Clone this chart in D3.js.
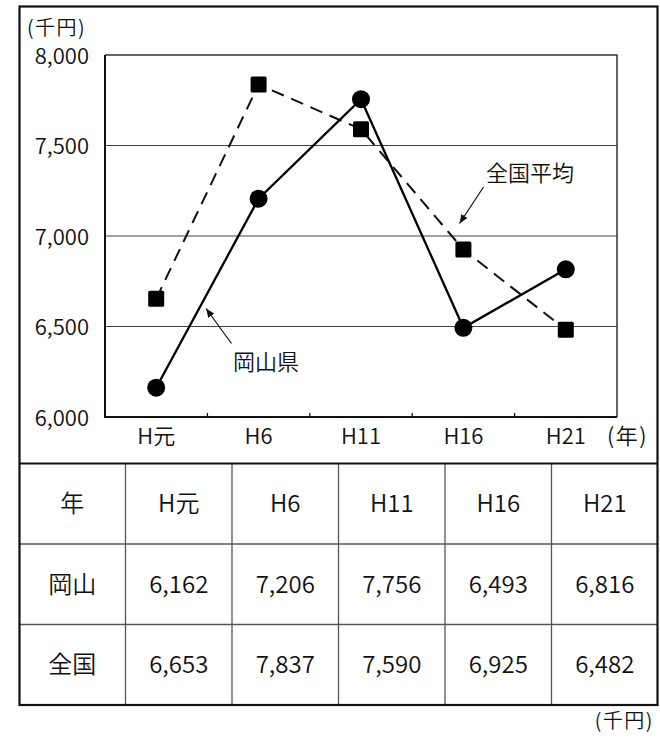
<!DOCTYPE html>
<html><head><meta charset="utf-8">
<script src="https://cdn.jsdelivr.net/npm/d3@7"></script>
<style>
html,body{margin:0;padding:0;background:#fff;}
svg text{font-family:"Noto Sans CJK JP","Noto Sans",sans-serif;fill:#111;font-weight:350;}
</style></head>
<body>
<svg id="chart" width="660" height="739"></svg>
<script>
const categories = ["H元","H6","H11","H16","H21"];
const okayama = [6162,7206,7756,6493,6816];
const national = [6653,7837,7590,6925,6482];
const yTicks = [6000,6500,7000,7500,8000];
const rowLabels = ["岡山","全国"];
const headerLabel = "年";
const unitLabel = "(千円)";
const xUnitLabel = "(年)";
const seriesNames = ["岡山県","全国平均"];

const svg = d3.select("#chart");
const fmt = d3.format(",");

const plot = {left:105, right:617, top:55, bottom:417};
const x = d3.scaleBand().domain(categories).range([plot.left, plot.right]).padding(0);
const y = d3.scaleLinear().domain([6000,8000]).range([plot.bottom, plot.top]);

// defs arrow
const defs = svg.append("defs");
defs.append("marker").attr("id","arr").attr("viewBox","0 0 10 10").attr("refX",10).attr("refY",5)
  .attr("markerWidth",9).attr("markerHeight",9).attr("markerUnits","userSpaceOnUse").attr("orient","auto")
  .append("path").attr("d","M0,1 L10,5 L0,9 Z").attr("fill","#111");

// gridlines
svg.append("g").selectAll("line").data(yTicks.filter(d=>d>6000 && d<8000)).join("line")
  .attr("x1",plot.left).attr("x2",plot.right).attr("y1",d=>y(d)).attr("y2",d=>y(d))
  .attr("stroke","#444").attr("stroke-width",1.2);
// frame top/right
svg.append("path").attr("d",`M${plot.left},${plot.top}H${plot.right}V${plot.bottom}`)
  .attr("fill","none").attr("stroke","#333").attr("stroke-width",1.5);

// y axis labels
svg.append("g").selectAll("text").data(yTicks).join("text")
  .attr("x",89).attr("y",d=>y(d)+1).attr("dy","0.36em").attr("text-anchor","end")
  .attr("font-size",22).text(d=>fmt(d));
svg.append("text").attr("x",27).attr("y",28).attr("dy","0.36em").attr("font-size",20)
  .attr("letter-spacing",1.5).text(unitLabel);

// x axis
const xAxis = d3.axisBottom(x).tickSize(0).tickPadding(0);
const gx = svg.append("g").attr("transform",`translate(0,${plot.bottom})`).call(xAxis);
gx.select(".domain").remove();
gx.selectAll("text").attr("y",19).attr("dy","0.36em").attr("font-size",22)
  .attr("font-family",'"Noto Sans CJK JP","Noto Sans",sans-serif').attr("fill","#111");
// inner ticks at band boundaries
svg.append("g").selectAll("line").data(categories.slice(1)).join("line")
  .attr("x1",d=>x(d)).attr("x2",d=>x(d)).attr("y1",plot.bottom).attr("y2",plot.bottom-4)
  .attr("stroke","#111").attr("stroke-width",1.3);
svg.append("text").attr("x",607).attr("y",436).attr("dy","0.36em").attr("font-size",22)
  .attr("letter-spacing",1.5).text(xUnitLabel);

// left & bottom axis lines
svg.append("path").attr("d",`M${plot.left},${plot.top}V${plot.bottom}H${plot.right}`)
  .attr("fill","none").attr("stroke","#111").attr("stroke-width",2);

const cx = d => x(d) + x.bandwidth()/2;
const line = d3.line().x((d,i)=>cx(categories[i])).y(d=>y(d));

// national (dashed, squares)
svg.append("path").datum(national).attr("d",line).attr("fill","none")
  .attr("stroke","#111").attr("stroke-width",2).attr("stroke-dasharray","13,8");
svg.append("g").selectAll("rect").data(national).join("rect")
  .attr("x",(d,i)=>cx(categories[i])-8).attr("y",d=>y(d)-8).attr("width",16).attr("height",16)
  .attr("rx",1.5).attr("fill","#000");

// okayama (solid, circles)
svg.append("path").datum(okayama).attr("d",line).attr("fill","none")
  .attr("stroke","#000").attr("stroke-width",2.3);
svg.append("g").selectAll("circle").data(okayama).join("circle")
  .attr("cx",(d,i)=>cx(categories[i])).attr("cy",d=>y(d)).attr("r",9).attr("fill","#000");

// annotations
svg.append("text").attr("x",233).attr("y",362).attr("dy","0.36em").attr("font-size",22).text(seriesNames[0]);
svg.append("line").attr("x1",231.5).attr("y1",343.5).attr("x2",206).attr("y2",308.5)
  .attr("stroke","#111").attr("stroke-width",1.2).attr("marker-end","url(#arr)");
svg.append("text").attr("x",486).attr("y",173).attr("dy","0.36em").attr("font-size",22).text(seriesNames[1]);
svg.append("line").attr("x1",483.5).attr("y1",187).attr("x2",459.5).attr("y2",223.5)
  .attr("stroke","#111").attr("stroke-width",1.2).attr("marker-end","url(#arr)");

// table
const tbl = {left:19, right:658, top:463.5, bottom:705};
const nCols = categories.length + 1;
const colW = (tbl.right - tbl.left) / nCols;
const rowH = (tbl.bottom - tbl.top) / 3;
const rows = [[headerLabel, ...categories], [rowLabels[0], ...okayama.map(fmt)], [rowLabels[1], ...national.map(fmt)]];
const g = svg.append("g");
for (let c=1; c<nCols; c++) {
  g.append("line").attr("x1",tbl.left+c*colW).attr("x2",tbl.left+c*colW).attr("y1",tbl.top).attr("y2",tbl.bottom)
   .attr("stroke","#555").attr("stroke-width",1.3);
}
for (let r=1; r<3; r++) {
  g.append("line").attr("x1",tbl.left).attr("x2",tbl.right).attr("y1",tbl.top+r*rowH).attr("y2",tbl.top+r*rowH)
   .attr("stroke","#555").attr("stroke-width",1.3);
}
rows.forEach((row,r)=>{
  row.forEach((t,c)=>{
    g.append("text").attr("x",tbl.left+(c+0.5)*colW).attr("y",tbl.top+(r+0.5)*rowH).attr("dy","0.36em")
     .attr("text-anchor","middle").attr("font-size",24).text(t);
  });
});
g.append("line").attr("x1",tbl.left).attr("x2",tbl.right).attr("y1",tbl.top).attr("y2",tbl.top)
  .attr("stroke","#111").attr("stroke-width",2.2);
// outer border
svg.append("rect").attr("x",19.5).attr("y",6.5).attr("width",638).attr("height",698.5)
  .attr("fill","none").attr("stroke","#111").attr("stroke-width",2.2);
svg.append("text").attr("x",654).attr("y",721).attr("dy","0.36em").attr("text-anchor","end")
  .attr("font-size",20).attr("letter-spacing",1.5).text(unitLabel);
</script>
</body></html>
